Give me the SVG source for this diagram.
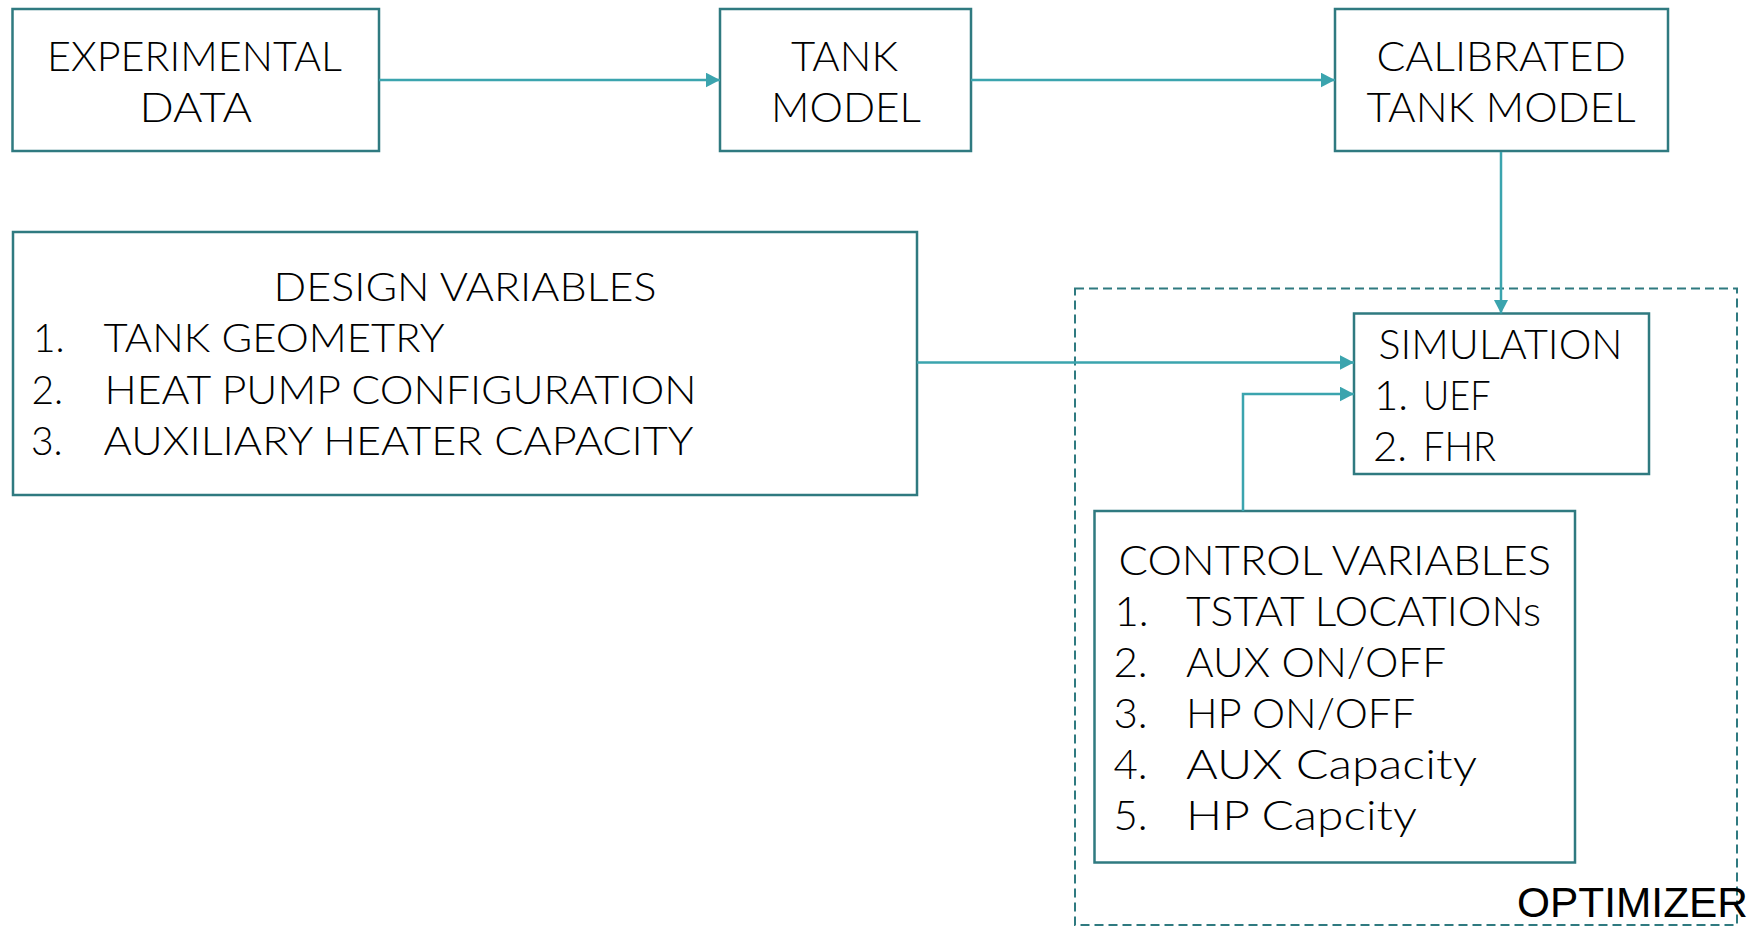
<svg xmlns="http://www.w3.org/2000/svg" width="1754" height="927" viewBox="0 0 1754 927">
  <style>
    .box { fill: #ffffff; stroke: #2f7a80; stroke-width: 2.5; }
    .frame { fill: none; stroke: #2f7a80; stroke-width: 2; stroke-dasharray: 9 5; }
    .wire { fill: none; stroke: #3ba4ae; stroke-width: 2.5; }
    .t { font-family: Lato, "Open Sans", "Liberation Sans", sans-serif; font-weight: 300; font-size: 42px; fill: #000000; }
    .d { font-size: 39px; }
    .opt { font-family: "Liberation Sans", Arial, sans-serif; font-size: 42px; fill: #000000; }
  </style>
  <defs>
    <marker id="arrow" markerUnits="userSpaceOnUse" markerWidth="15" markerHeight="15" refX="14" refY="7.3" orient="auto">
      <path d="M0,0 L14,7.3 L0,14.6 z" fill="#3ba4ae"/>
    </marker>
  </defs>

  <!-- optimizer boundary -->
  <g id="optimizer">
    <rect class="frame" x="1075" y="288.5" width="662" height="636.5"/>
    <text class="opt" x="1517" y="917" textLength="231" lengthAdjust="spacingAndGlyphs">OPTIMIZER</text>
  </g>

  <g id="experimental-data">
    <rect class="box" x="12.5" y="9" width="366.5" height="142"/>
    <text class="t" x="47" y="71" textLength="295" lengthAdjust="spacingAndGlyphs">EXPERIMENTAL</text>
    <text class="t" x="139.5" y="122" textLength="112.5" lengthAdjust="spacingAndGlyphs">DATA</text>
  </g>

  <g id="tank-model">
    <rect class="box" x="720" y="9" width="251" height="142"/>
    <text class="t" x="791" y="71" textLength="107" lengthAdjust="spacingAndGlyphs">TANK</text>
    <text class="t" x="771" y="122" textLength="150" lengthAdjust="spacingAndGlyphs">MODEL</text>
  </g>

  <g id="calibrated-tank-model">
    <rect class="box" x="1335" y="9" width="333" height="142"/>
    <text class="t" x="1376.5" y="71" textLength="249.5" lengthAdjust="spacingAndGlyphs">CALIBRATED</text>
    <text class="t" x="1366.5" y="122" textLength="269" lengthAdjust="spacingAndGlyphs">TANK MODEL</text>
  </g>

  <g id="design-variables">
    <rect class="box" x="13" y="232" width="904" height="263"/>
    <text class="t d" x="273.5" y="301" textLength="383" lengthAdjust="spacingAndGlyphs">DESIGN VARIABLES</text>
    <text class="t d" x="33" y="352">1.</text>
    <text class="t d" x="103.5" y="352" textLength="341" lengthAdjust="spacingAndGlyphs">TANK GEOMETRY</text>
    <text class="t d" x="31.5" y="404">2.</text>
    <text class="t d" x="104.5" y="404" textLength="592" lengthAdjust="spacingAndGlyphs">HEAT PUMP CONFIGURATION</text>
    <text class="t d" x="31" y="455">3.</text>
    <text class="t d" x="103.5" y="455" textLength="590" lengthAdjust="spacingAndGlyphs">AUXILIARY HEATER CAPACITY</text>
  </g>

  <g id="simulation">
    <rect class="box" x="1354" y="313.5" width="295" height="160.5"/>
    <text class="t" x="1378.5" y="359" textLength="244" lengthAdjust="spacingAndGlyphs">SIMULATION</text>
    <text class="t" x="1374" y="410">1.</text>
    <text class="t" x="1423" y="410" textLength="67.5" lengthAdjust="spacingAndGlyphs">UEF</text>
    <text class="t" x="1373" y="461">2.</text>
    <text class="t" x="1423" y="461" textLength="73" lengthAdjust="spacingAndGlyphs">FHR</text>
  </g>

  <g id="control-variables">
    <rect class="box" x="1094.5" y="511" width="480.5" height="351.5"/>
    <text class="t" x="1118.5" y="575" textLength="432.5" lengthAdjust="spacingAndGlyphs">CONTROL VARIABLES</text>
    <text class="t" x="1114.5" y="626">1.</text>
    <text class="t" x="1186" y="626" textLength="355" lengthAdjust="spacingAndGlyphs">TSTAT LOCATIONs</text>
    <text class="t" x="1113.5" y="677">2.</text>
    <text class="t" x="1186" y="677" textLength="260" lengthAdjust="spacingAndGlyphs">AUX ON/OFF</text>
    <text class="t" x="1113.5" y="728">3.</text>
    <text class="t" x="1186" y="728" textLength="229" lengthAdjust="spacingAndGlyphs">HP ON/OFF</text>
    <text class="t" x="1113.5" y="779">4.</text>
    <text class="t" x="1186" y="779" textLength="291" lengthAdjust="spacingAndGlyphs">AUX Capacity</text>
    <text class="t" x="1113.5" y="830">5.</text>
    <text class="t" x="1186" y="830" textLength="231" lengthAdjust="spacingAndGlyphs">HP Capcity</text>
  </g>

  <!-- connectors -->
  <g id="connectors">
    <path class="wire" d="M379,80 H720" marker-end="url(#arrow)"/>
    <path class="wire" d="M971,80 H1335" marker-end="url(#arrow)"/>
    <path class="wire" d="M1501,152 V313.5" marker-end="url(#arrow)"/>
    <path class="wire" d="M917,362.5 H1354" marker-end="url(#arrow)"/>
    <path class="wire" d="M1243,511 V394 H1354" marker-end="url(#arrow)"/>
  </g>
</svg>
